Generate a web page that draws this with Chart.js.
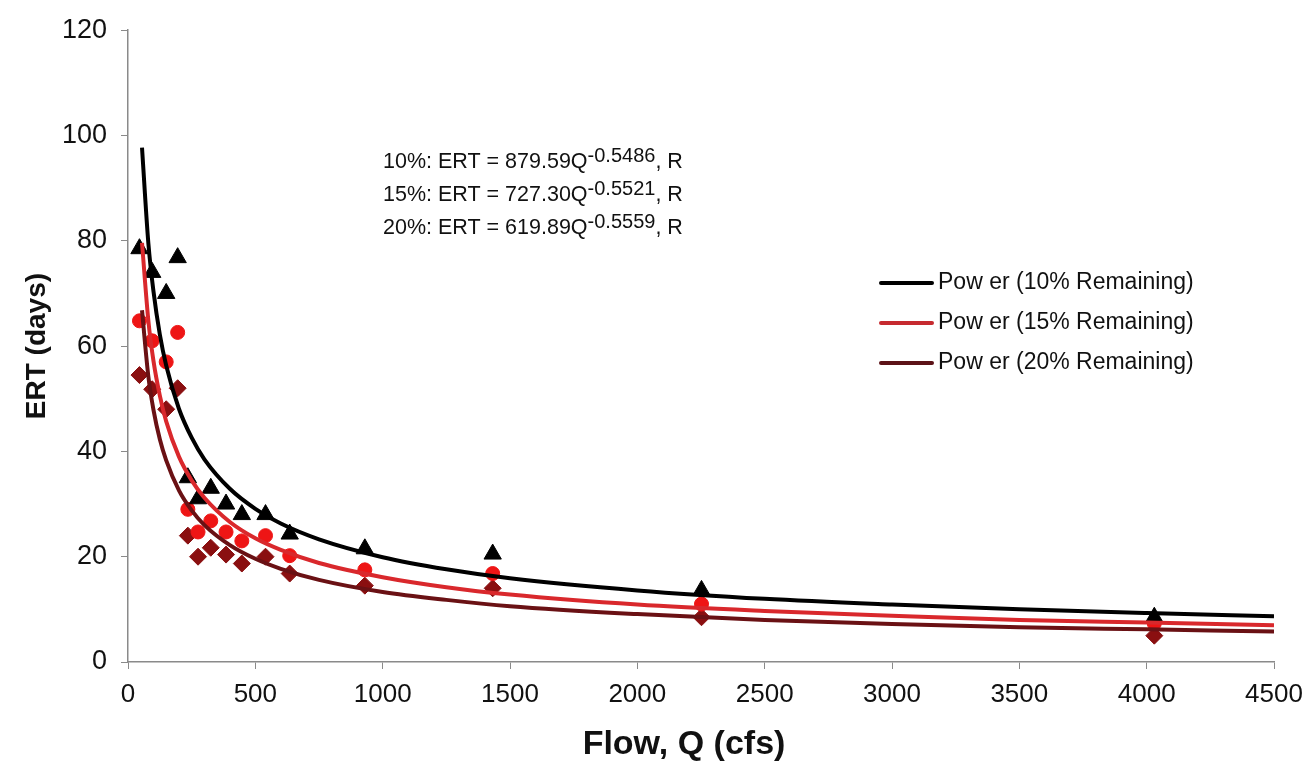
<!DOCTYPE html>
<html>
<head>
<meta charset="utf-8">
<script src="https://cdn.jsdelivr.net/npm/chart.js@4.4.1/dist/chart.umd.min.js"></script>
<style>
  html, body { margin: 0; padding: 0; background: #fff; }
  #wrap { width: 1310px; height: 773px; position: relative; }
</style>
</head>
<body>
<div id="wrap"><canvas id="ertChart" width="1310" height="773"></canvas></div>
<script>
// observed flows (cfs)
const flows = [45, 95, 150, 195, 235, 275, 325, 385, 447, 540, 635, 930, 1432, 2252, 4030];
// observed ERT (days)
const ert10 = [78.5, 74, 70, 76.8, 35, 31, 33, 30, 28, 28, 24.3, 21.5, 20.5, 13.6, 8.5];
const ert15 = [64.8, 61, 57, 62.6, 29, 24.7, 26.8, 24.7, 23, 24, 20.2, 17.5, 16.8, 11, 7.3];
const ert20 = [54.5, 51.8, 48, 52, 24, 20, 21.7, 20.4, 18.7, 20, 16.8, 14.5, 14, 8.5, 5];

// power trendlines
const fitQ = [55, 80, 100, 125, 150, 200, 250, 300, 400, 500, 600, 750, 1000, 1250, 1500, 2000, 2500, 3000, 3500, 4000, 4500];
const fit10 = [97.7, 79.5, 70.4, 62.2, 56.3, 48.1, 42.6, 38.5, 32.9, 29.1, 26.3, 23.3, 19.9, 17.6, 15.9, 13.6, 12.0, 10.9, 10.0, 9.3, 8.7];
const fit15 = [79.6, 64.8, 57.2, 50.6, 45.7, 39.0, 34.5, 31.2, 26.6, 23.5, 21.3, 18.8, 16.1, 14.2, 12.8, 10.9, 9.7, 8.8, 8.0, 7.5, 7.0];
const fit20 = [66.8, 54.2, 47.9, 42.3, 38.3, 32.6, 28.8, 26.0, 22.2, 19.6, 17.7, 15.6, 13.3, 11.8, 10.6, 9.1, 8.0, 7.2, 6.6, 6.2, 5.8];

const xTicks = [0, 500, 1000, 1500, 2000, 2500, 3000, 3500, 4000, 4500];
const yTicks = [0, 20, 40, 60, 80, 100, 120];

const equations = [
    { head: "10%: ERT = 879.59Q", exp: "-0.5486", tail: ", R" },
    { head: "15%: ERT = 727.30Q", exp: "-0.5521", tail: ", R" },
    { head: "20%: ERT = 619.89Q", exp: "-0.5559", tail: ", R" }
];
const legendItems = [
    { label: "Pow er (10% Remaining)", color: "#000000" },
    { label: "Pow er (15% Remaining)", color: "#c62a2f" },
    { label: "Pow er (20% Remaining)", color: "#5c1217" }
];
const xTitle = "Flow, Q (cfs)";

const FONT = "'Liberation Sans', Arial, sans-serif";
const pts = (xs, ys) => xs.map((x, i) => ({ x, y: ys[i] }));

function fitLine(label, data, color) {
    return {
        type: "line",
        label,
        data: pts(fitQ, data),
        borderColor: color,
        borderWidth: 4,
        pointRadius: 0,
        cubicInterpolationMode: "monotone",
        fill: false,
        order: 0
    };
}

function markers(label, data, color, style, radius) {
    return {
        type: "scatter",
        label,
        data: pts(flows, data),
        pointStyle: style,
        pointRadius: radius,
        pointBackgroundColor: color,
        pointBorderColor: color,
        pointBorderWidth: 1,
        showLine: false,
        order: 1
    };
}

// equation text, trendline legend and x title (sits a bit left of centre)
const overlayPlugin = {
    id: "overlay",
    afterDraw(chart) {
        const c = chart.ctx;
        c.save();
        c.fillStyle = "#111";
        c.textBaseline = "alphabetic";
        c.beginPath();
        c.rect(0, 0, 686, 773);
        c.clip();
        equations.forEach((eq, i) => {
            const y = 168 + i * 33;
            let x = 383;
            c.font = "21.5px " + FONT;
            c.fillText(eq.head, x, y);
            x += c.measureText(eq.head).width;
            c.font = "20px " + FONT;
            c.fillText(eq.exp, x, y - 6);
            x += c.measureText(eq.exp).width;
            c.font = "21.5px " + FONT;
            c.fillText(eq.tail, x, y);
        });
        c.restore();

        c.save();
        c.font = "23px " + FONT;
        c.textBaseline = "middle";
        legendItems.forEach((it, i) => {
            const y = 283 + i * 40;
            c.strokeStyle = it.color;
            c.lineWidth = 4;
            c.lineCap = "round";
            c.beginPath();
            c.moveTo(881, y);
            c.lineTo(932, y);
            c.stroke();
            c.fillStyle = "#111";
            c.fillText(it.label, 938, y);
        });
        c.restore();

        c.save();
        c.font = "bold 34px " + FONT;
        c.fillStyle = "#111";
        c.textAlign = "center";
        c.textBaseline = "middle";
        c.fillText(xTitle, 684, 745);
        c.restore();
    }
};

new Chart(document.getElementById("ertChart"), {
    type: "scatter",
    data: {
        datasets: [
            fitLine("Power (10% Remaining)", fit10, "#000000"),
            fitLine("Power (15% Remaining)", fit15, "#d9282c"),
            fitLine("Power (20% Remaining)", fit20, "#6a1114"),
            markers("10% Remaining", ert10, "#000000", "triangle", 10),
            markers("15% Remaining", ert15, "#ee1515", "circle", 7),
            markers("20% Remaining", ert20, "#8a0f10", "rectRot", 8.5)
        ]
    },
    options: {
        responsive: false,
        animation: false,
        layout: { padding: { left: 0, right: 36, top: 25, bottom: 0 } },
        plugins: {
            legend: { display: false },
            tooltip: { enabled: false }
        },
        scales: {
            x: {
                type: "linear",
                min: 0,
                max: 4500,
                afterBuildTicks: s => { s.ticks = xTicks.map(v => ({ value: v })); },
                afterFit: s => { s.height = 111; s.paddingRight = 0; s.paddingLeft = 0; },
                grid: { drawOnChartArea: false, drawTicks: true, tickLength: 7, color: "#8a8a8a" },
                border: { color: "#8a8a8a", width: 1.5 },
                ticks: {
                    color: "#111",
                    padding: 10,
                    font: { family: FONT, size: 26 },
                    callback: v => String(v)
                },
                title: { display: false }
            },
            y: {
                type: "linear",
                min: 0,
                max: 120,
                afterBuildTicks: s => { s.ticks = yTicks.map(v => ({ value: v })); },
                afterFit: s => { s.width = 128; },
                grid: { drawOnChartArea: false, drawTicks: true, tickLength: 7, color: "#8a8a8a" },
                border: { color: "#8a8a8a", width: 1.5 },
                ticks: { color: "#111", padding: 14, font: { family: FONT, size: 27 } },
                title: {
                    display: true,
                    text: "ERT (days)",
                    color: "#111",
                    font: { family: FONT, size: 28, weight: "bold" },
                    padding: { top: 20, bottom: 0 }
                }
            }
        }
    },
    plugins: [overlayPlugin]
});
</script>
</body>
</html>
